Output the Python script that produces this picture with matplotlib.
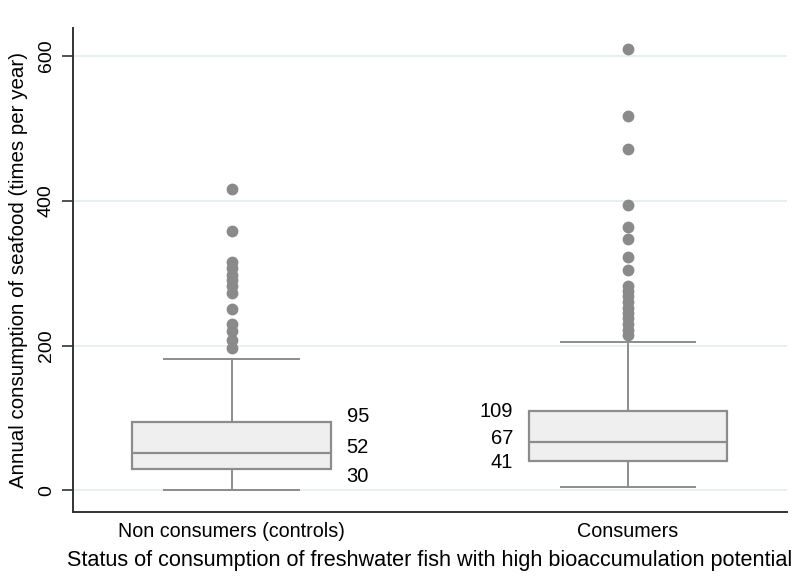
import matplotlib
matplotlib.use("Agg")
import matplotlib.pyplot as plt

plt.rcParams['font.family'] = ['Liberation Sans', 'DejaVu Sans']

categories = ["Non consumers (controls)", "Consumers"]
q1 = [30, 41]
median = [52, 67]
q3 = [95, 109]
whisker_low = [0, 5]
whisker_high = [182, 205]
outliers_controls = [416, 358, 315, 307, 298, 290, 282, 273, 250, 230, 220, 208, 196]
outliers_consumers = [610, 518, 472, 394, 364, 347, 322, 305, 283, 275, 268, 260,
                      252, 245, 238, 230, 222, 215]
yticks = [0, 200, 400, 600]

# label text positions (layout)
label_y_left = [102, 59, 19]
label_y_right = [109, 72, 39]

fig = plt.figure(figsize=(8.06, 5.79), dpi=100)
ax = fig.add_axes([0.0906, 0.1157, 0.8854, 0.836])

stats = []
fl = [outliers_controls, outliers_consumers]
for i in range(2):
    stats.append(dict(q1=q1[i], med=median[i], q3=q3[i], whislo=whisker_low[i],
                      whishi=whisker_high[i], fliers=fl[i], label=categories[i]))

gray = '#8c8c8c'
ax.bxp(stats, positions=[1, 2], widths=0.5, patch_artist=True,
       boxprops=dict(facecolor='#efefef', edgecolor=gray, linewidth=1.6),
       medianprops=dict(color=gray, linewidth=1.6),
       whiskerprops=dict(color=gray, linewidth=1.4),
       capprops=dict(color=gray, linewidth=1.4),
       capwidths=0.34,
       flierprops=dict(marker='o', markerfacecolor='#8a8a8a', markeredgecolor='#8a8a8a',
                       markersize=7.5))

ax.set_xlim(0.6, 2.4)
ax.set_ylim(-30, 639)
ax.set_yticks(yticks)
ax.set_yticklabels([str(t) for t in yticks], rotation=90, va='center', fontsize=14)
ax.set_xticks([1, 2])
ax.set_xticklabels(categories, fontsize=14.2)
ax.tick_params(axis='y', length=8, width=1.2, color='#333333', pad=5)
ax.tick_params(axis='x', length=0, pad=7)
for y in yticks:
    ax.axhline(y, color='#e3eeee', linewidth=1.2, zorder=0)

for s in ['top', 'right']:
    ax.spines[s].set_visible(False)
for s in ['left', 'bottom']:
    ax.spines[s].set_color('#333333')
    ax.spines[s].set_linewidth(1.4)

vals_left = [q3[0], median[0], q1[0]]
vals_right = [q3[1], median[1], q1[1]]
for v, yy in zip(vals_left, label_y_left):
    ax.text(1 + 0.25 + 0.04, yy, str(v), ha='left', va='center', fontsize=14.5)
for v, yy in zip(vals_right, label_y_right):
    ax.text(2 - 0.25 - 0.04, yy, str(v), ha='right', va='center', fontsize=14.5)

ax.set_ylabel("Annual consumption of seafood (times per year)", fontsize=14.8, labelpad=7)
ax.set_xlabel("Status of consumption of freshwater fish with high bioaccumulation potential",
              fontsize=15.6, labelpad=7)

fig.savefig("out.png", dpi=100)
